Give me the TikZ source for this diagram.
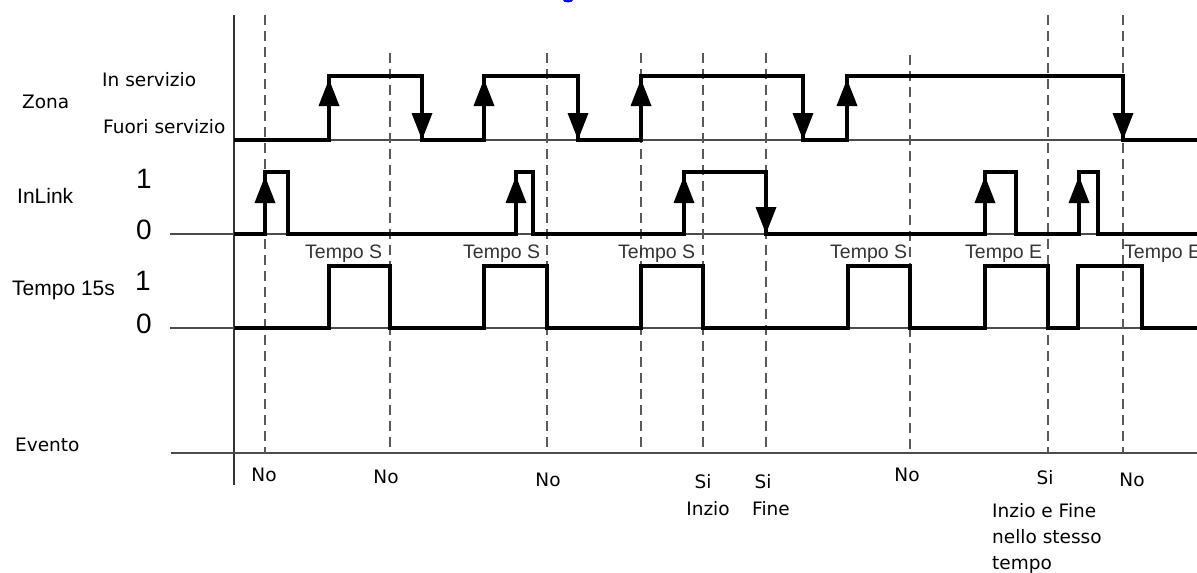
\documentclass[tikz,border=0pt]{standalone}
\usepackage{fontspec}
\setmainfont{Liberation Sans}
\newfontfamily\bmfont{DejaVu Sans}
\usetikzlibrary{arrows.meta}
\usetikzlibrary{positioning}

\tikzset{
  sig/.style={line width=3.5pt, line join=miter},
  edgeup/.style={line width=3.5pt, -{Triangle[length=27pt,width=20pt]}},
  baseln/.style={line width=1.5pt, black!70},
  guide/.style={line width=1.5pt, black!65, dash pattern=on 10pt off 6pt},
  txt/.style={inner sep=0pt, anchor=base west},
  rowlbl/.style={txt, font=\fontsize{21}{24}\selectfont},
  bmlbl/.style={txt, font=\bmfont\fontsize{18.5}{26}\selectfont},
  digit/.style={inner sep=0pt, anchor=base, font=\fontsize{28}{30}\selectfont},
  tlbl/.style={txt, text=black!80, font=\fontsize{19.5}{22}\selectfont},
  evlbl/.style={inner sep=0pt, anchor=base, font=\bmfont\fontsize{18.5}{26}\selectfont},
}

\begin{document}
\begin{tikzpicture}[x=1pt,y=-1pt]
    \useasboundingbox (0,0) rectangle (1197,573);
    \fill[blue] (568,0) ellipse (5 and 2.5);

    % row labels
    \node[bmlbl] (zona) at (22,108) {Zona};
    \node[bmlbl] (inserv) at (102,86) {In servizio};
    \node[bmlbl] (fuoriserv) at (103,133) {Fuori servizio};
    \node[rowlbl] (inlink) at (17,203) {InLink};
    \node[digit] (inlinkhi) at (144,188) {1};
    \node[digit] (inlinklo) at (144,239) {0};
    \node[rowlbl] (tempo) at (12,295) {Tempo 15s};
    \node[digit] (tempohi) at (143,290) {1};
    \node[digit] (tempolo) at (144,333) {0};
    \node[bmlbl] (evento) at (15,451) {Evento};

    % axis and baselines
    \draw[line width=1.5pt, black!80] (234,15) -- (234,485);
    \draw[baseln] (234,140) -- (1197,140);
    \draw[baseln] (170,234) -- (1197,234);
    \draw[baseln] (170,328) -- (1197,328);
    \draw[baseln] (171,453) -- (1197,453);

    % event markers
    \draw[guide] (265,15) -- (265,453);
    \draw[guide] (390,53) -- (390,453);
    \draw[guide] (547,53) -- (547,453);
    \draw[guide] (641,53) -- (641,453);
    \draw[guide] (703,53) -- (703,453);
    \draw[guide] (766,53) -- (766,453);
    \draw[guide] (910,55) -- (910,453);
    \draw[guide] (1048,15) -- (1048,453);
    \draw[guide] (1123,15) -- (1123,453);

    % Zona
    \draw[sig] (234,140) -- (329,140) -- (329,76) -- (422,76) -- (422,140)
      -- (484,140) -- (484,76) -- (578,76) -- (578,140) -- (641,140)
      -- (641,76) -- (803,76) -- (803,140) -- (847,140) -- (847,76)
      -- (1123,76) -- (1123,140) -- (1197,140);
    \draw[edgeup] (329,140) -- (329,79);
    \draw[edgeup] (484,140) -- (484,79);
    \draw[edgeup] (641,140) -- (641,79);
    \draw[edgeup] (847,140) -- (847,79);
    \draw[edgeup] (422,76) -- (422,140);
    \draw[edgeup] (578,76) -- (578,140);
    \draw[edgeup] (803,76) -- (803,140);
    \draw[edgeup] (1123,76) -- (1123,140);

    % InLink
    \draw[sig] (234,234) -- (265,234) -- (265,172) -- (288,172) -- (288,234)
      -- (516,234) -- (516,172) -- (533,172) -- (533,234) -- (684,234)
      -- (684,172) -- (766,172) -- (766,234) -- (985,234) -- (985,172)
      -- (1016,172) -- (1016,234) -- (1079,234) -- (1079,172) -- (1098,172)
      -- (1098,234) -- (1197,234);
    \draw[edgeup] (265,234) -- (265,176);
    \draw[edgeup] (516,234) -- (516,176);
    \draw[edgeup] (684,234) -- (684,176);
    \draw[edgeup] (985,234) -- (985,176);
    \draw[edgeup] (1079,234) -- (1079,176);
    \draw[edgeup] (766,172) -- (766,234);

    % Tempo 15s
    \draw[sig] (234,328) -- (329,328) -- (329,266) -- (390,266) -- (390,328)
      -- (484,328) -- (484,266) -- (547,266) -- (547,328) -- (641,328)
      -- (641,266) -- (703,266) -- (703,328) -- (848,328) -- (848,266)
      -- (910,266) -- (910,328) -- (985,328) -- (985,266) -- (1048,266)
      -- (1048,328) -- (1078,328) -- (1078,266) -- (1142,266) -- (1142,328)
      -- (1197,328);
    \node[tlbl] (ts1) at (305,258) {Tempo S};
    \node[tlbl] (ts2) at (463,258) {Tempo S};
    \node[tlbl] (ts3) at (618,258) {Tempo S};
    \node[tlbl] (ts4) at (830,258) {Tempo S};
    \node[tlbl] (te1) at (965,258) {Tempo E};
    \node[tlbl] (te2) at (1124,258) {Tempo E};

    % Evento
    \node[evlbl] (ev1) at (264,481) {No};
    \node[evlbl] (ev2) at (386,483) {No};
    \node[evlbl] (ev3) at (548,486) {No};
    \node[evlbl] (ev4) at (703,488) {Si};
    \node[evlbl] (ev4b) at (708,515) {Inzio};
    \node[evlbl] (ev5) at (763,488) {Si};
    \node[evlbl] (ev5b) at (771,515) {Fine};
    \node[evlbl] (ev6) at (907,481) {No};
    \node[evlbl] (ev7) at (1045,484) {Si};
    \node[bmlbl, align=left, anchor=base west] (ev7b) at (992,569)
      {Inzio e Fine\\nello stesso\\tempo};
    \node[evlbl] (ev8) at (1132,486) {No};
\end{tikzpicture}
\end{document}
